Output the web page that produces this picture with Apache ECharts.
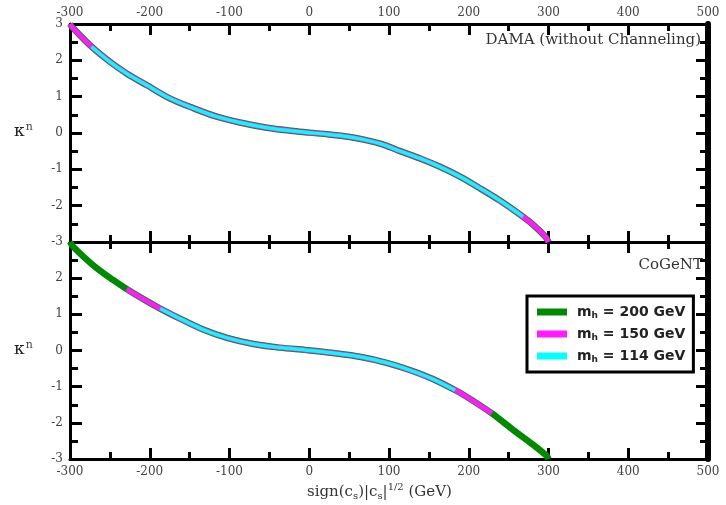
<!DOCTYPE html>
<html>
<head>
<meta charset="utf-8">
<script src="https://cdn.jsdelivr.net/npm/echarts@6/dist/echarts.min.js"></script>
<style>html,body{margin:0;padding:0;background:#fff}#c{width:726px;height:505px}</style>
</head>
<body>
<div id="c"></div>
<script>
// x range and ticks
const xMin = -300, xMax = 500, xStep = 100;
const yMin = -3, yMax = 3, yStep = 1;
const mhValues = ['200', '150', '114'];
const seriesColors = ['#008a00', '#ff1aff', '#00ffff'];

// Top panel (DAMA without channeling)
const topGreen = [[-300,3.0],[-296,2.88],[-273,2.375],[-250,1.96],[-229,1.64],[-204,1.32],[-175,0.955],[-145,0.68],[-116,0.45],[-87,0.29],[-53,0.146],[-20,0.055],[0,0.01],[25,-0.04],[51,-0.11],[70,-0.19],[90,-0.30],[114,-0.50],[139,-0.70],[164,-0.93],[189,-1.20],[214,-1.52],[239,-1.86],[264,-2.24],[281,-2.53],[296,-2.85],[300,-3.0]];
const topMagenta = [[-300,3.0],[-296,2.88],[-273,2.375],[-250,1.96],[-229,1.64],[-204,1.32],[-175,0.955],[-145,0.68],[-116,0.45],[-87,0.29],[-53,0.146],[-20,0.055],[0,0.01],[25,-0.04],[51,-0.11],[70,-0.19],[90,-0.30],[114,-0.50],[139,-0.70],[164,-0.93],[189,-1.20],[214,-1.52],[239,-1.86],[264,-2.24],[281,-2.53],[296,-2.85],[300,-3.0]];
const topCyan = [[-273,2.375],[-250,1.96],[-229,1.64],[-204,1.32],[-175,0.955],[-145,0.68],[-116,0.45],[-87,0.29],[-53,0.146],[-20,0.055],[0,0.01],[25,-0.04],[51,-0.11],[70,-0.19],[90,-0.30],[114,-0.50],[139,-0.70],[164,-0.93],[189,-1.20],[214,-1.52],[239,-1.86],[264,-2.24],[268,-2.31]];

// Bottom panel (CoGeNT)
const botGreen = [[-300,3.0],[-296,2.87],[-271,2.36],[-246,1.95],[-229,1.70],[-208,1.42],[-187,1.16],[-162,0.88],[-133,0.58],[-103,0.35],[-70,0.18],[-37,0.08],[-3,0.01],[30,-0.07],[65,-0.18],[97,-0.34],[126,-0.54],[155,-0.79],[185,-1.12],[206,-1.40],[229,-1.74],[256,-2.2],[281,-2.61],[298,-2.92],[300,-3.0]];
const botMagenta = [[-229,1.70],[-208,1.42],[-187,1.16],[-162,0.88],[-133,0.58],[-103,0.35],[-70,0.18],[-37,0.08],[-3,0.01],[30,-0.07],[65,-0.18],[97,-0.34],[126,-0.54],[155,-0.79],[185,-1.12],[206,-1.40],[229,-1.74]];
const botCyan = [[-187,1.16],[-162,0.88],[-133,0.58],[-103,0.35],[-70,0.18],[-37,0.08],[-3,0.01],[30,-0.07],[65,-0.18],[97,-0.34],[126,-0.54],[155,-0.79],[183,-1.10]];

const panelLabels = ['DAMA (without Channeling)', 'CoGeNT'];

const chart = echarts.init(document.getElementById('c'), null, {renderer: 'canvas'});
const tickFont = {fontFamily: 'DejaVu Serif', fontSize: 12, color: '#444'};

function xAx(grid, pos, showLabel) {
  return {
    type: 'value', gridIndex: grid, position: pos, min: xMin, max: xMax, interval: xStep,
    axisLine: {onZero: false, lineStyle: {color: '#000', width: 3}},
    axisTick: {inside: true, length: 11, lineStyle: {width: 3, color: '#000'}},
    minorTick: {show: true, splitNumber: 2, length: 7, lineStyle: {width: 3, color: '#000'}},
    splitLine: {show: false}, minorSplitLine: {show: false},
    axisLabel: Object.assign({show: showLabel, margin: pos === 'top' ? 5 : 7}, tickFont)
  };
}
function yAx(grid, pos, showLabel, showMax, lineW) {
  return {
    type: 'value', gridIndex: grid, position: pos, min: yMin, max: yMax, interval: yStep,
    axisLine: {onZero: false, lineStyle: {color: '#000', width: lineW}},
    axisTick: {inside: true, length: 12, lineStyle: {width: 3, color: '#000'}},
    minorTick: {show: true, splitNumber: 2, length: 8, lineStyle: {width: 3, color: '#000'}},
    splitLine: {show: false}, minorSplitLine: {show: false},
    axisLabel: Object.assign({show: showLabel, margin: 7, showMaxLabel: showMax}, tickFont)
  };
}

function line(name, data, xi, yi, color, w, z) {
  return {
    type: 'line', name: name, data: data, xAxisIndex: xi, yAxisIndex: yi,
    smooth: 0.35, showSymbol: false, symbol: 'none', z: z,
    lineStyle: {color: color, width: w}, itemStyle: {color: color},
    emphasis: {disabled: true}, animation: false
  };
}
const names = mhValues.map(v => 'mh' + v);
const widths = [6.5, 5, 3.5];

chart.setOption({
  animation: false,
  grid: [
    {left: 70, right: 18, top: 24, height: 218},
    {left: 70, right: 18, top: 242, height: 217}
  ],
  xAxis: [xAx(0, 'bottom', false), xAx(0, 'top', true), xAx(1, 'top', false), xAx(1, 'bottom', true)],
  yAxis: [yAx(0, 'left', true, true, 3), yAx(0, 'right', false, true, 6), yAx(1, 'left', true, false, 3), yAx(1, 'right', false, true, 6)],
  legend: {
    show: true, data: names, orient: 'vertical', left: 527, top: 296,
    padding: [8, 8, 8, 10], itemGap: 6, itemWidth: 30, itemHeight: 7, icon: 'rect',
    borderColor: '#000', borderWidth: 3, backgroundColor: '#fff',
    selectedMode: false,
    formatter: function (n) {
      const v = n.replace('mh', '');
      return '{m|m}{h|h}{t| = ' + v + ' GeV}';
    },
    textStyle: {
      color: '#222', fontFamily: 'DejaVu Sans', fontSize: 14, fontWeight: 'bold', lineHeight: 16,
      rich: {
        m: {fontFamily: 'DejaVu Sans', fontSize: 14, fontWeight: 'bold', color: '#222', padding: [0, 0, 0, 5]},
        h: {fontFamily: 'DejaVu Sans', fontSize: 9, fontWeight: 'bold', color: '#222', verticalAlign: 'bottom', padding: [8, 0, 0, 0]},
        t: {fontFamily: 'DejaVu Sans', fontSize: 14, fontWeight: 'bold', color: '#222'}
      }
    }
  },
  series: [
    line(names[0], topGreen, 0, 0, seriesColors[0], widths[0], 2),
    line(names[1], topMagenta, 0, 0, seriesColors[1], widths[1], 3),
    line(names[2], topCyan, 0, 0, seriesColors[2], widths[2], 4),
    line(names[0], botGreen, 3, 2, seriesColors[0], widths[0], 2),
    line(names[1], botMagenta, 3, 2, seriesColors[1], widths[1], 3),
    line(names[2], botCyan, 3, 2, seriesColors[2], widths[2], 4)
  ],
  graphic: [
    {type: 'text', right: 25, top: 33, z: 10, style: {text: panelLabels[0], font: '15px "DejaVu Serif"', fill: '#333'}},
    {type: 'text', right: 23, top: 258, z: 10, style: {text: panelLabels[1], font: '15px "DejaVu Serif"', fill: '#333'}},
    {type: 'text', left: 14, top: 122, z: 10, style: {text: '{k|κ}{n|n}', rich: {k: {fontFamily: 'DejaVu Serif', fontSize: 17, fill: '#222'}, n: {fontFamily: 'DejaVu Serif', fontSize: 11, fill: '#444', verticalAlign: 'top', padding: [0,0,8,1]}}}},
    {type: 'text', left: 14, top: 340, z: 10, style: {text: '{k|κ}{n|n}', rich: {k: {fontFamily: 'DejaVu Serif', fontSize: 17, fill: '#222'}, n: {fontFamily: 'DejaVu Serif', fontSize: 11, fill: '#444', verticalAlign: 'top', padding: [0,0,8,1]}}}},
    {type: 'text', left: 307, top: 482, z: 10, style: {
      text: '{a|sign(c}{s|s}{a|)|c}{s|s}{a||}{p|1/2}{a| (GeV)}',
      rich: {
        a: {fontFamily: 'DejaVu Serif', fontSize: 15, fill: '#333'},
        s: {fontFamily: 'DejaVu Serif', fontSize: 10, fill: '#333', padding: [8, 0, 0, 0]},
        p: {fontFamily: 'DejaVu Serif', fontSize: 10, fill: '#333', padding: [0, 0, 10, 0]}
      }}}
  ]
});
</script>
</body>
</html>
